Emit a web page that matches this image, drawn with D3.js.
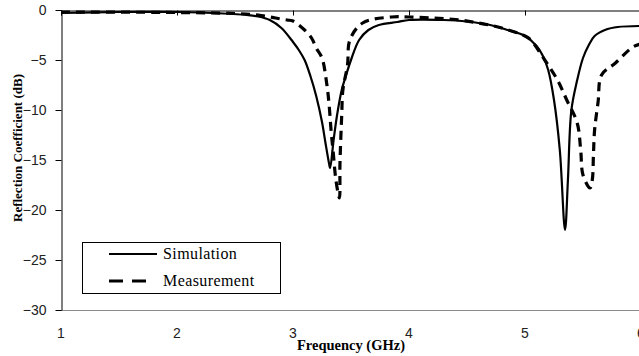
<!DOCTYPE html>
<html>
<head>
<meta charset="utf-8">
<script src="https://cdn.jsdelivr.net/npm/d3@7"></script>
<style>
  body { margin: 0; background: #fff; }
  svg { display: block; }
</style>
</head>
<body>
<svg width="639" height="356"></svg>
<script>
// values (GHz, dB)
var simFreq = [1.0, 1.5, 2.0, 2.4, 2.6, 2.7, 2.8, 2.9, 3.0, 3.05, 3.1, 3.15, 3.2, 3.25, 3.28, 3.31, 3.32, 3.35, 3.38, 3.42, 3.45, 3.5, 3.57, 3.65, 3.74, 3.9, 4.0, 4.3, 4.5, 4.7, 4.85, 5.0, 5.1, 5.15, 5.2, 5.25, 5.3, 5.345, 5.37, 5.4, 5.45, 5.5, 5.55, 5.6, 5.7, 5.8, 6.0];
var simVal  = [-0.3, -0.2, -0.2, -0.35, -0.5, -0.65, -1.0, -1.8, -3.2, -4.0, -5.0, -6.6, -8.6, -11.2, -13.3, -15.3, -15.8, -13.0, -10.5, -8.0, -6.8, -5.0, -3.0, -2.0, -1.5, -1.2, -1.0, -1.0, -1.15, -1.5, -2.0, -2.6, -3.6, -4.5, -6.0, -9.0, -14.0, -22.0, -17.0, -10.0, -7.0, -4.8, -3.5, -2.6, -1.95, -1.7, -1.6];

var measFreq = [1.0, 2.0, 2.5, 2.7, 2.85, 2.95, 3.0, 3.1, 3.16, 3.2, 3.25, 3.29, 3.31, 3.33, 3.345, 3.37, 3.4, 3.405, 3.42, 3.43, 3.47, 3.49, 3.6, 3.85, 4.0, 4.2, 4.4, 4.6, 4.8, 5.0, 5.05, 5.17, 5.28, 5.36, 5.45, 5.48, 5.5, 5.56, 5.58, 5.59, 5.6, 5.63, 5.66, 5.78, 5.93, 6.0];
var measVal  = [-0.2, -0.25, -0.35, -0.5, -0.8, -1.0, -1.1, -2.0, -2.8, -3.8, -4.8, -7.3, -9.3, -12.3, -14.0, -17.0, -18.8, -15.3, -10.5, -8.0, -5.5, -3.0, -1.3, -0.7, -0.7, -0.8, -0.95, -1.3, -1.8, -2.6, -3.0, -5.0, -7.0, -9.0, -11.3, -14.0, -16.5, -17.8, -17.0, -14.5, -12.0, -9.2, -6.5, -5.3, -3.7, -3.4];

var xTicks = [1, 2, 3, 4, 5, 6];
var yTicks = [0, -5, -10, -15, -20, -25, -30];
var seriesNames = ['Simulation', 'Measurement'];

var svg = d3.select('svg');
var pLeft = 61, pRight = 641, pTop = 10, pBottom = 310;

var x = d3.scaleLinear().domain([1, 6]).range([pLeft, pRight]);
var y = d3.scaleLinear().domain([-30, 0]).range([pBottom, pTop]);

// bottom border line (grey)
svg.append('line')
   .attr('x1', pLeft).attr('x2', pRight)
   .attr('y1', y(-30) + 0.5).attr('y2', y(-30) + 0.5)
   .attr('stroke', '#8c8c8c').attr('stroke-width', 1);

// x axis crossing at 0, ticks pointing into the plot
var xAxis = svg.append('g')
   .attr('transform', 'translate(0,' + (y(0) + 0.5) + ')')
   .call(d3.axisBottom(x).tickValues(xTicks).tickSize(5).tickFormat(''));
xAxis.select('.domain').attr('stroke', '#000');
xAxis.selectAll('.tick line').attr('stroke', '#000');

// x tick labels at the bottom
svg.append('g').selectAll('text')
   .data(xTicks)
   .join('text')
     .attr('x', d => x(d))
     .attr('y', 338)
     .attr('text-anchor', 'middle')
     .attr('font-family', 'Liberation Sans, Arial, sans-serif')
     .attr('font-size', 14)
     .attr('fill', '#222')
     .text(d => d);

// y axis
var yAxis = svg.append('g')
   .attr('transform', 'translate(' + (pLeft + 0.5) + ',0)')
   .call(d3.axisLeft(y).tickValues(yTicks).tickSize(6).tickPadding(9).tickSizeOuter(0));
yAxis.select('.domain').attr('stroke', '#000');
yAxis.selectAll('.tick line').attr('stroke', '#000');
yAxis.selectAll('.tick text')
     .attr('font-family', 'Liberation Sans, Arial, sans-serif')
     .attr('font-size', 14)
     .attr('fill', '#222');

// axis titles
svg.append('text')
   .attr('transform', 'translate(22,148) rotate(-90)')
   .attr('text-anchor', 'middle')
   .attr('font-family', 'Liberation Serif, Times New Roman, serif')
   .attr('font-weight', 'bold')
   .attr('font-size', 13)
   .text('Reflection Coefficient (dB)');

svg.append('text')
   .attr('x', 351)
   .attr('y', 350)
   .attr('text-anchor', 'middle')
   .attr('font-family', 'Liberation Serif, Times New Roman, serif')
   .attr('font-weight', 'bold')
   .attr('font-size', 14.5)
   .text('Frequency (GHz)');

// curves
var line = d3.line()
   .x(d => x(d[0]))
   .y(d => y(d[1]))
   .curve(d3.curveCatmullRom.alpha(0.5));

var sim = simFreq.map((f, i) => [f, simVal[i]]);
var meas = measFreq.map((f, i) => [f, measVal[i]]);

svg.append('defs').append('clipPath').attr('id', 'clip')
   .append('rect').attr('x', pLeft).attr('y', 0).attr('width', 639 - pLeft).attr('height', pBottom);

var plot = svg.append('g').attr('clip-path', 'url(#clip)');

plot.append('path')
   .datum(sim)
   .attr('d', line)
   .attr('fill', 'none')
   .attr('stroke', '#000')
   .attr('stroke-width', 2.2);

plot.append('path')
   .datum(meas)
   .attr('d', line)
   .attr('fill', 'none')
   .attr('stroke', '#000')
   .attr('stroke-width', 3.2)
   .attr('stroke-dasharray', '9,6');

// legend
var lg = svg.append('g');
lg.append('rect')
  .attr('x', 82.5).attr('y', 242.5)
  .attr('width', 198).attr('height', 51)
  .attr('fill', '#fff').attr('stroke', '#000').attr('stroke-width', 1);

lg.selectAll('line')
  .data(seriesNames)
  .join('line')
    .attr('x1', 109)
    .attr('x2', (d, i) => i ? 147 : 157)
    .attr('y1', (d, i) => 254 + i * 27)
    .attr('y2', (d, i) => 254 + i * 27)
    .attr('stroke', '#000')
    .attr('stroke-width', (d, i) => i ? 3.2 : 2.2)
    .attr('stroke-dasharray', (d, i) => i ? '14,9' : null);

lg.selectAll('text')
  .data(seriesNames)
  .join('text')
    .attr('x', 163)
    .attr('y', (d, i) => 259 + i * 27)
    .attr('font-family', 'Liberation Serif, Times New Roman, serif')
    .attr('font-size', 16)
    .attr('letter-spacing', 0.4)
    .text(d => d);
</script>
</body>
</html>
